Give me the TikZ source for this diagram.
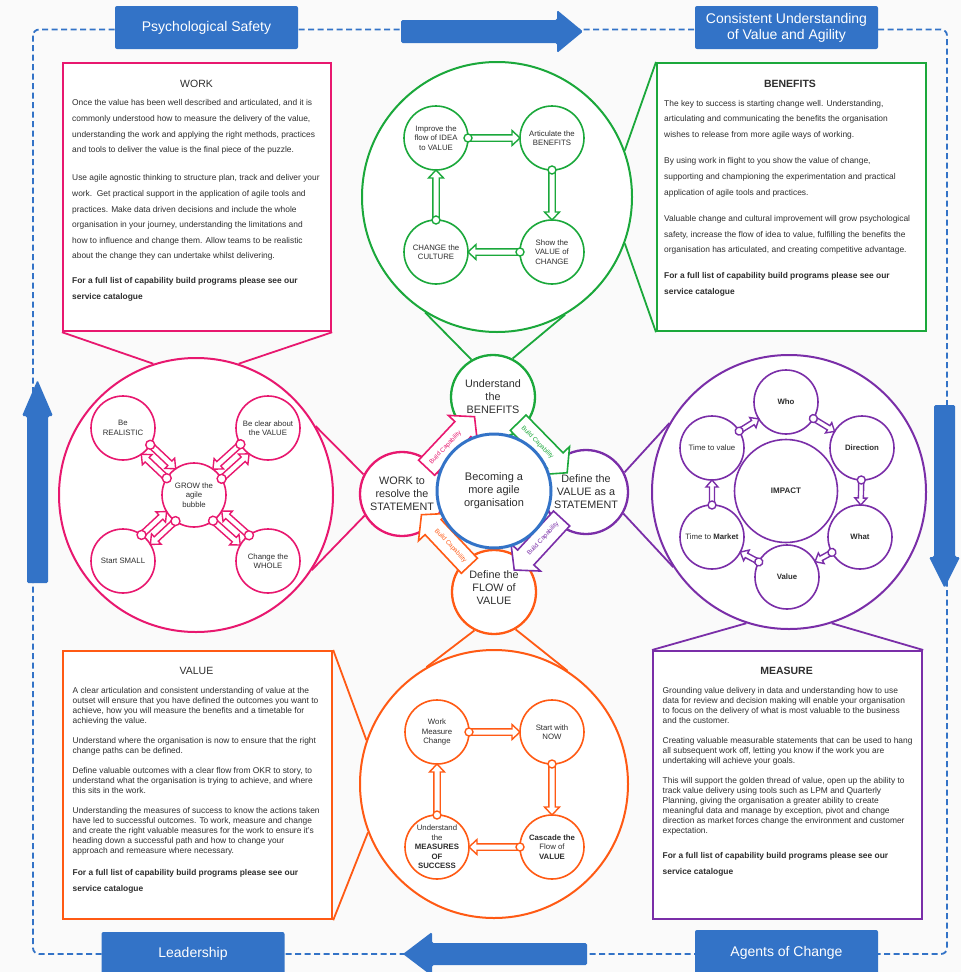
\documentclass[tikz,border=0pt]{standalone}
\usepackage{fontspec}
\setmainfont{Liberation Sans}
\usetikzlibrary{calc}
\definecolor{cpink}{HTML}{E8186F}
\definecolor{cgreen}{HTML}{1BA83B}
\definecolor{cpurple}{HTML}{7A2EA8}
\definecolor{corange}{HTML}{FF5A14}
\definecolor{cblue}{HTML}{3373C7}
\definecolor{ctext}{HTML}{2E2E2E}
\definecolor{cbg}{HTML}{FAFAFA}
\makeatletter
\newcommand{\getdir}[2]{%
  \pgfpointanchor{#1}{center}\edef\myax{\strip@pt\pgf@x}\edef\myay{\strip@pt\pgf@y}%
  \pgfpointanchor{#2}{center}\edef\mybx{\strip@pt\pgf@x}\edef\myby{\strip@pt\pgf@y}%
  \pgfmathsetmacro\hang{atan2(\myby-\myay,\mybx-\myax)}%
  \pgfmathsetmacro\hlen{veclen(\mybx-\myax,\myby-\myay)}%
}
\makeatother
\def\harrW{3.2}\def\harrH{7.5}\def\harrHL{8}\def\harrC{4}
% small hollow arrow: colour, from, to, offset, radius from, radius to
\newcommand{\harr}[6]{%
  \getdir{#2}{#3}%
  \pgfmathsetmacro\hs{sqrt((#5)*(#5)-(#4)*(#4))}%
  \pgfmathsetmacro\he{\hlen-sqrt((#6)*(#6)-(#4)*(#4))}%
  \pgfmathsetmacro\hb{\he-\harrHL}%
  \begin{scope}[shift={(#2.center)},rotate=\hang]
    \draw[#1,line width=1.4pt,fill=white,line join=miter]
      (\hs,#4-\harrW) -- (\hb,#4-\harrW) -- (\hb,#4-\harrH) -- (\he,#4)
      -- (\hb,#4+\harrH) -- (\hb,#4+\harrW) -- (\hs,#4+\harrW) -- cycle;
    \draw[#1,line width=1.4pt,fill=white] (\hs,#4) circle[radius=\harrC];
  \end{scope}}
% block arrow with label: colour, from, to, t0, t1, name
\newcommand{\barr}[6]{%
  \getdir{#2}{#3}%
  \pgfmathsetmacro\tang{\hang>90 ? \hang-180 : (\hang<-90 ? \hang+180 : \hang)}%
  \begin{scope}[shift={(#2.center)},rotate=\hang]
    \draw[#1,line width=1.6pt,fill=white,line join=miter]
      (#4,-11) -- (#5-17,-11) -- (#5-17,-20) -- (#5,0) -- (#5-17,20) -- (#5-17,11) -- (#4,11) -- cycle;
    \node[text=#1,inner sep=0pt,font=\fontsize{6.3}{7}\selectfont,rotate=\tang] (#6) at ({(#4+#5-17)/2+1},0) {Build Capability};
  \end{scope}}
\begin{document}
\begin{tikzpicture}[x=1pt,y=-1pt,
  bx/.style={draw=#1, line width=2.2pt, fill=white, minimum width=268pt, minimum height=268pt, anchor=north west, inner sep=0pt},
  bigc/.style={circle, draw=#1, line width=2pt, fill=white, inner sep=0pt},
  medc/.style={circle, draw=#1, line width=2.3pt, fill=white, minimum size=84pt, inner sep=0pt, align=center, text=ctext, font=\fontsize{10.8}{13}\selectfont},
  smc/.style={circle, draw=#1, line width=1.6pt, fill=white, minimum size=64pt, inner sep=0pt, align=center, text=ctext, font=\fontsize{7.8}{9.5}\selectfont},
  conn/.style={draw=#1, line width=1.8pt},
  banner/.style={fill=cblue, text=white, rounded corners=2pt, minimum width=183pt, minimum height=43pt, inner sep=0pt, align=center, font=\fontsize{14}{16}\selectfont},
  para/.style={anchor=north west, inner sep=0pt, align=left, text=ctext},
  head/.style={text=ctext, inner sep=0pt, font=\fontsize{10.5}{12}\selectfont},
  bigarrow/.style={fill=cblue, rounded corners=1.5pt}
]
\useasboundingbox (0,0) rectangle (961,972);
\fill[cbg] (0,0) rectangle (961,972);

% dashed frame
\draw[cblue, line width=1.8pt, dash pattern=on 6pt off 3.5pt, rounded corners=6pt] (33,29.5) rectangle (947,954);

% big arrows
\fill[bigarrow] (401,20) -- (557,20) -- (557,10) -- (583,31.5) -- (557,53) -- (557,43) -- (401,43) -- cycle;
\fill[bigarrow] (587,943) -- (432,943) -- (432,932) -- (403,954) -- (432,976) -- (432,965) -- (587,965) -- cycle;
\fill[bigarrow] (27,583) -- (27,416) -- (22,416) -- (37.5,380) -- (53,416) -- (48,416) -- (48,583) -- cycle;
\fill[bigarrow] (934,405) -- (955,405) -- (955,557) -- (960,557) -- (944.5,588) -- (929,557) -- (934,557) -- cycle;

% banners
\node[banner] (bps) at (206.5,27.5) {Psychological Safety};
\node[banner] (bcu) at (786.5,27.5) {Consistent Understanding\\of Value and Agility};
\node[banner, minimum height=44pt] (bld) at (193,954) {Leadership};
\node[banner, minimum height=46pt] (bag) at (786.5,953) {Agents of Change};

% boxes
\node[bx=cpink] (wbox) at (62,62) {};
\node[bx=cgreen, minimum width=269pt] (bbox) at (656,62) {};
\node[bx=corange, minimum width=269pt] (vbox) at (62,650) {};
\node[bx=cpurple, minimum width=269pt] (mbox) at (652,650) {};

% box texts
\node[head] (wh) at (196.5,84) {WORK};
\node[para, font=\fontsize{8.4}{15.6}\selectfont] (wt) at (72,99.6) {Once the value has been well described and articulated, and it is\\
commonly understood how to measure the delivery of the value,\\
understanding the work and applying the right methods, practices\\
and tools to deliver the value is the final piece of the puzzle.\\[12.6pt]
Use agile agnostic thinking to structure plan, track and deliver your\\
work.\ \ Get practical support in the application of agile tools and\\
practices. Make data driven decisions and include the whole\\
organisation in your journey, understanding the limitations and\\
how to influence and change them. Allow teams to be realistic\\
about the change they can undertake whilst delivering.\\[9.4pt]
\textbf{For a full list of capability build programs please see our}\\
\textbf{service catalogue}};

\node[head, font=\bfseries\fontsize{10.5}{12}\selectfont] (bh) at (790,84) {BENEFITS};
\node[para, font=\fontsize{8.4}{15.8}\selectfont] (bt) at (664,99.9) {The key to success is starting change well. Understanding,\\
articulating and communicating the benefits the organisation\\
wishes to release from more agile ways of working.\\[10.2pt]
By using work in flight to you show the value of change,\\
supporting and championing the experimentation and practical\\
application of agile tools and practices.\\[10.2pt]
Valuable change and cultural improvement will grow psychological\\
safety, increase the flow of idea to value, fulfilling the benefits the\\
organisation has articulated, and creating competitive advantage.\\[10.2pt]
\textbf{For a full list of capability build programs please see our}\\
\textbf{service catalogue}};

\node[head] (vh) at (196.5,671) {VALUE};
\node[para, font=\fontsize{8.4}{10.1}\selectfont] (vt) at (72.5,687.3) {A clear articulation and consistent understanding of value at the\\
outset will ensure that you have defined the outcomes you want to\\
achieve, how you will measure the benefits and a timetable for\\
achieving the value.\\[9.7pt]
Understand where the organisation is now to ensure that the right\\
change paths can be defined.\\[9.7pt]
Define valuable outcomes with a clear flow from OKR to story, to\\
understand what the organisation is trying to achieve, and where\\
this sits in the work.\\[9.7pt]
Understanding the measures of success to know the actions taken\\
have led to successful outcomes. To work, measure and change\\
and create the right valuable measures for the work to ensure it’s\\
heading down a successful path and how to change your\\
approach and remeasure where necessary.};
\node[para, font=\bfseries\fontsize{8.4}{16}\selectfont] (vf) at (72.5,869.3) {For a full list of capability build programs please see our\\
service catalogue};

\node[head, font=\bfseries\fontsize{10.5}{12}\selectfont] (mh) at (786.5,670.7) {MEASURE};
\node[para, font=\fontsize{8.4}{10}\selectfont] (mt) at (662.5,687.3) {Grounding value delivery in data and understanding how to use\\
data for review and decision making will enable your organisation\\
to focus on the delivery of what is most valuable to the business\\
and the customer.\\[10pt]
Creating valuable measurable statements that can be used to hang\\
all subsequent work off, letting you know if the work you are\\
undertaking will achieve your goals.\\[10pt]
This will support the golden thread of value, open up the ability to\\
track value delivery using tools such as LPM and Quarterly\\
Planning, giving the organisation a greater ability to create\\
meaningful data and manage by exception, pivot and change\\
direction as market forces change the environment and customer\\
expectation.};
\node[para, font=\bfseries\fontsize{8.4}{15.7}\selectfont] (mf) at (662.5,852.6) {For a full list of capability build programs please see our\\
service catalogue};

% big circles and medium circles
\node[bigc=cpink, minimum size=274pt] (L) at (196,495) {};
\node[bigc=cgreen, minimum size=270pt] (G) at (497,197) {};
\node[bigc=cpurple, minimum size=274pt] (P) at (789,492) {};
\node[bigc=corange, minimum size=268pt] (O) at (494,784) {};

\node[medc=cgreen] (U) at (493,397) {Understand\\the\\BENEFITS};
\node[medc=cpurple] (V) at (586,492) {Define the\\VALUE as a\\STATEMENT};
\node[medc=corange] (F) at (494,592) {};
\node[text=ctext, align=center, inner sep=0pt, font=\fontsize{10.8}{13}\selectfont] (Ft) at (494,587.5) {Define the\\FLOW of\\VALUE};
\node[medc=cpink] (W) at (402,494) {WORK to\\resolve the\\STATEMENT};

% connectors box -> big circle
\draw[conn=cpink] (wbox.south west) -- (L.108);
\draw[conn=cpink] (wbox.south east) -- (L.72);
\draw[conn=cgreen] (bbox.north west) -- (G.20);
\draw[conn=cgreen] (bbox.south west) -- (G.-20);
\draw[conn=cpurple] (mbox.north west) -- (P.-108);
\draw[conn=cpurple] (mbox.north east) -- (P.-72);
\draw[conn=corange] (vbox.north east) -- (O.161);
\draw[conn=corange] (vbox.south east) -- (O.-159);
% big circle -> medium circle
\draw[conn=cpink] (L.30) -- (W.153);
\draw[conn=cpink] (L.-33) -- (W.-150);
\draw[conn=cgreen] (G.-60) -- (U.63);
\draw[conn=cgreen] (G.-122) -- (U.120);
\draw[conn=cpurple] (P.150) -- (V.27);
\draw[conn=cpurple] (P.-147) -- (V.-30);
\draw[conn=corange] (O.120) -- (F.-117);
\draw[conn=corange] (O.57) -- (F.-60);

% pink group
\node[smc=cpink] (BR) at (123,428) {Be\\REALISTIC};
\node[smc=cpink] (BV) at (268,428) {Be clear about\\the VALUE};
\node[smc=cpink] (GR) at (194,495) {GROW the\\agile\\bubble};
\node[smc=cpink] (SS) at (123,561) {Start SMALL};
\node[smc=cpink] (CW) at (268,561) {Change the\\WHOLE};
\def\harrW{3}\def\harrH{7}\def\harrHL{8}\def\harrC{4.5}
\harr{cpink}{BR}{GR}{-6.5}{32}{32}
\harr{cpink}{GR}{BR}{-6.5}{32}{32}
\harr{cpink}{BV}{GR}{6.5}{32}{32}
\harr{cpink}{GR}{BV}{6.5}{32}{32}
\harr{cpink}{SS}{GR}{-6.5}{32}{32}
\harr{cpink}{GR}{SS}{-6.5}{32}{32}
\harr{cpink}{CW}{GR}{6.5}{32}{32}
\harr{cpink}{GR}{CW}{6.5}{32}{32}

% green group
\node[smc=cgreen] (IM) at (436,138) {Improve the\\flow of IDEA\\to VALUE};
\node[smc=cgreen] (AB) at (552,138) {Articulate the\\BENEFITS};
\node[smc=cgreen] (CC) at (436,252) {CHANGE the\\CULTURE};
\node[smc=cgreen] (SV) at (552,252) {Show the\\VALUE of\\CHANGE};
\def\harrW{3.2}\def\harrH{7.5}\def\harrHL{8}\def\harrC{4}
\harr{cgreen}{IM}{AB}{0}{32}{32}
\harr{cgreen}{AB}{SV}{0}{32}{32}
\harr{cgreen}{SV}{CC}{0}{32}{32}
\harr{cgreen}{CC}{IM}{0}{32}{32}

% orange group
\node[smc=corange] (WMC) at (437,732) {Work\\Measure\\Change};
\node[smc=corange] (SN) at (552,732) {Start with\\NOW};
\node[smc=corange] (MS) at (437,847) {Understand\\the\\\textbf{MEASURES}\\\textbf{OF}\\\textbf{SUCCESS}};
\node[smc=corange] (CF) at (552,847) {\textbf{Cascade the}\\Flow of\\\textbf{VALUE}};
\harr{corange}{WMC}{SN}{0}{32}{32}
\harr{corange}{SN}{CF}{0}{32}{32}
\harr{corange}{CF}{MS}{0}{32}{32}
\harr{corange}{MS}{WMC}{0}{32}{32}

% purple group
\node[smc=cpurple, minimum size=103pt, font=\bfseries\fontsize{8}{10}\selectfont] (IMP) at (786,491) {IMPACT};
\node[smc=cpurple, font=\bfseries\fontsize{7.8}{9.5}\selectfont] (WHO) at (786,402) {Who};
\node[smc=cpurple, font=\bfseries\fontsize{7.8}{9.5}\selectfont] (DIR) at (862,448) {Direction};
\node[smc=cpurple, font=\bfseries\fontsize{7.8}{9.5}\selectfont] (WHAT) at (860,537) {What};
\node[smc=cpurple, font=\bfseries\fontsize{7.8}{9.5}\selectfont] (VAL) at (787,577) {Value};
\node[smc=cpurple] (TTM) at (712,537) {Time to \textbf{Market}};
\node[smc=cpurple] (TTV) at (712,448) {Time to value};
\def\harrW{2.5}\def\harrH{6}\def\harrHL{7}\def\harrC{4}
\harr{cpurple}{TTV}{WHO}{0}{32}{32}
\harr{cpurple}{WHO}{DIR}{0}{32}{32}
\harr{cpurple}{DIR}{WHAT}{0}{32}{32}
\harr{cpurple}{WHAT}{VAL}{0}{32}{32}
\harr{cpurple}{VAL}{TTM}{0}{32}{32}
\harr{cpurple}{TTM}{TTV}{0}{32}{32}

% build capability arrows
\barr{cpink}{W}{U}{36}{106}{bc1}
\barr{cgreen}{U}{V}{36}{106}{bc2}
\barr{cpurple}{V}{F}{36}{106}{bc3}
\barr{corange}{F}{W}{36}{106}{bc4}

% centre
\node[circle, draw=cblue, line width=3pt, fill=white, minimum size=114pt, inner sep=0pt, align=center, text=ctext, font=\fontsize{11}{13}\selectfont] (C) at (494,491) {Becoming a\\more agile\\organisation};
\end{tikzpicture}
\end{document}
